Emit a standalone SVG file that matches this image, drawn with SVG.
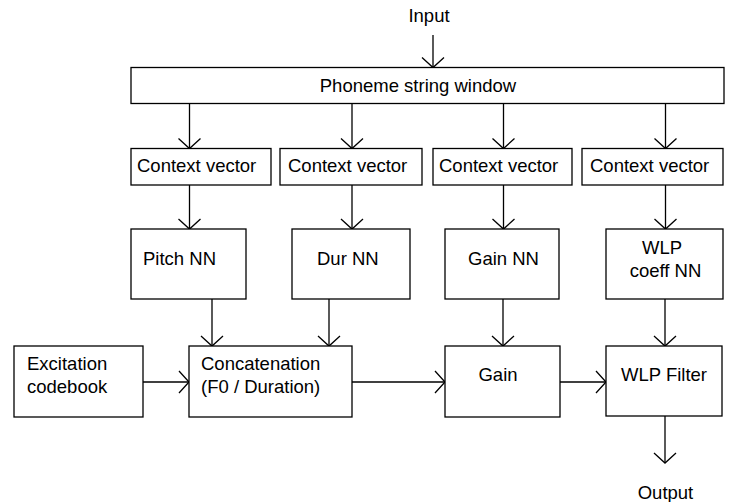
<svg xmlns="http://www.w3.org/2000/svg" width="732" height="502" viewBox="0 0 732 502">
<style>
.box{fill:#fff;stroke:#000;stroke-width:1.3}
.t{font-family:"Liberation Sans",Arial,sans-serif;font-size:18.5px;fill:#000}
.m{text-anchor:middle}
.c{stroke:#000;stroke-width:1.3;fill:none;marker-end:url(#ah)}
</style>
<defs>
<marker id="ah" markerUnits="userSpaceOnUse" viewBox="-12 -12 14 24" refX="0" refY="0" markerWidth="14" markerHeight="24" orient="auto" overflow="visible">
<path d="M-10,-11 L0,0 L-10,11" fill="none" stroke="#000" stroke-width="1.3"/>
</marker>
</defs>
<rect width="732" height="502" fill="#fff"/>
<text class="t m" x="429" y="22">Input</text>
<text class="t m" x="665.5" y="499">Output</text>
<g id="connectors">
<line class="c" x1="433" y1="35" x2="433" y2="67.5"/>
<line class="c" x1="189.5" y1="103.5" x2="189.5" y2="148.5"/>
<line class="c" x1="352" y1="103.5" x2="352" y2="148.5"/>
<line class="c" x1="503.5" y1="103.5" x2="503.5" y2="148.5"/>
<line class="c" x1="665.5" y1="103.5" x2="665.5" y2="148.5"/>
<line class="c" x1="189.5" y1="185" x2="189.5" y2="229"/>
<line class="c" x1="352" y1="185" x2="352" y2="229"/>
<line class="c" x1="503.5" y1="185" x2="503.5" y2="229"/>
<line class="c" x1="665.5" y1="185" x2="665.5" y2="229"/>
<line class="c" x1="212" y1="299" x2="212" y2="346"/>
<line class="c" x1="329" y1="299" x2="329" y2="346"/>
<line class="c" x1="503" y1="299" x2="503" y2="346"/>
<line class="c" x1="665" y1="299" x2="665" y2="346"/>
<line class="c" x1="143" y1="382" x2="189" y2="382"/>
<line class="c" x1="352" y1="382" x2="445" y2="382"/>
<line class="c" x1="560" y1="382" x2="606" y2="382"/>
<line class="c" x1="665" y1="416" x2="665" y2="463"/>
</g>
<g id="phoneme"><rect class="box" x="131" y="67.5" width="593" height="36"/><text class="t m" x="418" y="92">Phoneme string window</text></g>
<g id="ctx1"><rect class="box" x="131" y="148.5" width="140" height="36.5"/><text class="t" x="137" y="172">Context vector</text></g>
<g id="ctx2"><rect class="box" x="280" y="148.5" width="142" height="36.5"/><text class="t" x="288" y="172">Context vector</text></g>
<g id="ctx3"><rect class="box" x="433" y="148.5" width="139" height="36.5"/><text class="t" x="439" y="172">Context vector</text></g>
<g id="ctx4"><rect class="box" x="582" y="148.5" width="141" height="36.5"/><text class="t" x="590" y="172">Context vector</text></g>
<g id="pitchnn"><rect class="box" x="131" y="229" width="115" height="70"/><text class="t" x="143" y="265">Pitch NN</text></g>
<g id="durnn"><rect class="box" x="292" y="229" width="118" height="70"/><text class="t" x="317" y="265">Dur NN</text></g>
<g id="gainnn"><rect class="box" x="445" y="229" width="114" height="70"/><text class="t" x="468" y="265">Gain NN</text></g>
<g id="wlpnn"><rect class="box" x="606" y="229" width="117" height="70"/><text class="t m" x="662" y="254">WLP</text><text class="t m" x="665.5" y="277">coeff NN</text></g>
<g id="excitation"><rect class="box" x="14" y="346" width="129" height="71"/><text class="t" x="27" y="370">Excitation</text><text class="t" x="27" y="393">codebook</text></g>
<g id="concat"><rect class="box" x="189" y="346" width="163" height="71"/><text class="t" x="201" y="370">Concatenation</text><text class="t" x="201" y="393">(F0 / Duration)</text></g>
<g id="gain"><rect class="box" x="445" y="346" width="115" height="71"/><text class="t m" x="498" y="381">Gain</text></g>
<g id="wlpfilter"><rect class="box" x="606" y="346" width="116" height="70"/><text class="t m" x="664" y="381">WLP Filter</text></g>
</svg>
